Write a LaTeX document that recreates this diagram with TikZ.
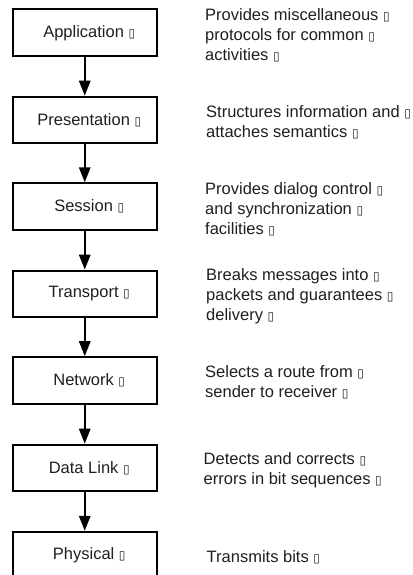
\documentclass[tikz,border=0pt]{standalone}
\usepackage{fontspec}
\setmainfont{Liberation Sans}
\newfontfamily\glyphfont{DejaVu Sans}
\usetikzlibrary{arrows.meta}
\definecolor{inkcol}{gray}{0.12}
% placeholder glyph printed after every label
\newcommand{\gb}{{\glyphfont\fontsize{12}{12}\selectfont ▯}}
\tikzset{
  layer/.style={draw=black, line width=2pt, minimum width=144.5pt,
    minimum height=46.5pt, inner sep=0pt, text=inkcol,
    font=\fontsize{16.5}{20}\selectfont},
  descr/.style={anchor=west, align=left, inner sep=0pt, text=inkcol,
    font=\fontsize{16.5}{20}\selectfont},
  flow/.style={draw=black, line width=1.7pt,
    -{Triangle[length=15pt,width=11.5pt]}}
}
\begin{document}
\begin{tikzpicture}[x=1pt,y=-1pt]
\useasboundingbox (0,0) rectangle (412,575);
% protocol stack
\node[layer] (app)  at (84.75,32.75)  {\hspace*{9pt}Application \gb};
\node[layer] (pres) at (84.75,119.85) {\hspace*{9pt}Presentation \gb};
\node[layer] (sess) at (84.75,206.5)  {\hspace*{9pt}Session \gb};
\node[layer] (tran) at (84.75,293.8)  {\hspace*{9pt}Transport \gb};
\node[layer] (netw) at (84.75,380.35) {\hspace*{9pt}Network \gb};
\node[layer] (link) at (84.75,467.85) {\hspace*{9pt}Data Link \gb};
\node[layer] (phys) at (84.75,555)    {\hspace*{9pt}Physical \gb};
% downward flow between layers
\draw[flow] (app)  -- (pres);
\draw[flow] (pres) -- (sess);
\draw[flow] (sess) -- (tran);
\draw[flow] (tran) -- (netw);
\draw[flow] (netw) -- (link);
\draw[flow] (link) -- (phys);
% layer descriptions
\node[descr] (dapp)  at (205,35)  {Provides miscellaneous \gb\\protocols for common \gb\\activities \gb};
\node[descr] (dpres) at (206,122) {Structures information and \gb\\attaches semantics \gb};
\node[descr] (dsess) at (205,209) {Provides dialog control \gb\\and synchronization \gb\\facilities \gb};
\node[descr] (dtran) at (206,296) {Breaks messages into \gb\\packets and guarantees \gb\\delivery \gb};
\node[descr] (dnetw) at (205,382) {Selects a route from \gb\\sender to receiver \gb};
\node[descr] (dlink) at (203.5,470) {Detects and corrects \gb\\errors in bit sequences \gb};
\node[descr] (dphys) at (206.5,557) {Transmits bits \gb};
\end{tikzpicture}
\end{document}
